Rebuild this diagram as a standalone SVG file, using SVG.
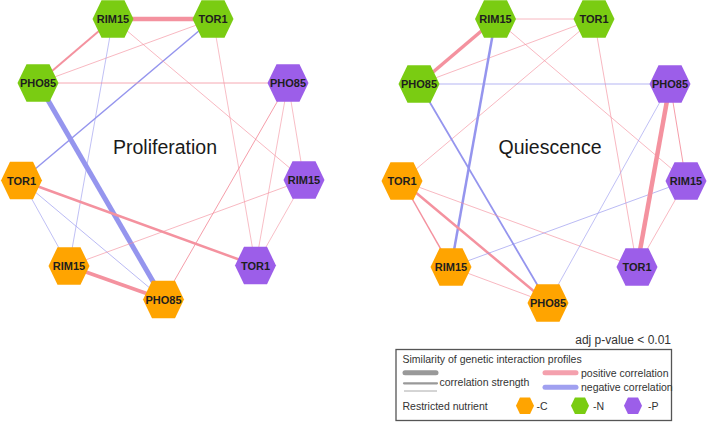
<svg xmlns="http://www.w3.org/2000/svg" xmlns:xlink="http://www.w3.org/1999/xlink" width="709" height="422" viewBox="0 0 709 422">
<style>
.pos{stroke:#f4929f;fill:none}
.neg{stroke:#9595ee;fill:none}
.C{fill:#ffa400}
.N{fill:#7acc12}
.P{fill:#9c5ee9}
.lbl{font-family:"Liberation Sans",Arial,sans-serif;font-weight:bold;font-size:11px;fill:#1e1e1e;text-anchor:middle}
.title{font-family:"Liberation Sans",Arial,sans-serif;font-size:19.5px;fill:#1a1a1a;text-anchor:middle}
.leg{font-family:"Liberation Sans",Arial,sans-serif;font-size:10.5px;fill:#333}
</style>
<defs>
<polygon id="hex" points="-20.5,0 -11.5,-18.8 11.5,-18.8 20.5,0 11.5,18.8 -11.5,18.8"/>
</defs>
<rect width="709" height="422" fill="#fff"/>

<g id="connectors">
<g id="prolif-edges">
<line class="pos" x1="113" y1="19" x2="213" y2="19" stroke-width="4.5"/>
<line class="pos" x1="113" y1="19" x2="38" y2="83" stroke-width="2"/>
<line class="pos" x1="213" y1="19" x2="38" y2="83" stroke-width="0.65"/>
<line class="neg" x1="213" y1="19" x2="21.5" y2="180.5" stroke-width="1.5"/>
<line class="neg" x1="113" y1="19" x2="69" y2="266" stroke-width="0.6"/>
<line class="pos" x1="113" y1="19" x2="304" y2="180" stroke-width="0.65"/>
<line class="pos" x1="213" y1="19" x2="255.5" y2="265.5" stroke-width="0.6"/>
<line class="pos" x1="38" y1="83" x2="288" y2="83" stroke-width="0.8"/>
<line class="neg" x1="38" y1="83" x2="163.5" y2="299.5" stroke-width="5"/>
<line class="pos" x1="21.5" y1="180.5" x2="255.5" y2="265.5" stroke-width="2.5"/>
<line class="neg" x1="21.5" y1="180.5" x2="69" y2="266" stroke-width="0.6"/>
<line class="neg" x1="21.5" y1="180.5" x2="163.5" y2="299.5" stroke-width="0.65"/>
<line class="pos" x1="69" y1="266" x2="163.5" y2="299.5" stroke-width="3.5"/>
<line class="pos" x1="69" y1="266" x2="304" y2="180" stroke-width="0.65"/>
<line class="pos" x1="163.5" y1="299.5" x2="288" y2="83" stroke-width="0.9"/>
<line class="pos" x1="288" y1="83" x2="304" y2="180" stroke-width="0.6"/>
<line class="pos" x1="288" y1="83" x2="255.5" y2="265.5" stroke-width="0.6"/>
<line class="pos" x1="304" y1="180" x2="255.5" y2="265.5" stroke-width="0.6"/>
</g>
<g id="quies-edges">
<line class="pos" x1="495.5" y1="19" x2="594" y2="19" stroke-width="0.65"/>
<line class="pos" x1="495.5" y1="19" x2="419" y2="84" stroke-width="3.5"/>
<line class="pos" x1="594" y1="19" x2="419" y2="84" stroke-width="0.65"/>
<line class="pos" x1="594" y1="19" x2="402" y2="181" stroke-width="0.65"/>
<line class="neg" x1="495.5" y1="19" x2="451" y2="267" stroke-width="2.5"/>
<line class="pos" x1="495.5" y1="19" x2="686" y2="181" stroke-width="0.65"/>
<line class="pos" x1="594" y1="19" x2="637" y2="267" stroke-width="0.65"/>
<line class="neg" x1="419" y1="84" x2="670" y2="84" stroke-width="0.7"/>
<line class="neg" x1="419" y1="84" x2="548" y2="303" stroke-width="1.8"/>
<line class="pos" x1="402" y1="181" x2="637" y2="267" stroke-width="0.65"/>
<line class="pos" x1="402" y1="181" x2="451" y2="267" stroke-width="1.5"/>
<line class="pos" x1="402" y1="181" x2="548" y2="303" stroke-width="2.5"/>
<line class="pos" x1="451" y1="267" x2="548" y2="303" stroke-width="0.65"/>
<line class="neg" x1="451" y1="267" x2="686" y2="181" stroke-width="0.65"/>
<line class="neg" x1="548" y1="303" x2="670" y2="84" stroke-width="0.6"/>
<line class="pos" x1="670" y1="84" x2="686" y2="181" stroke-width="0.9"/>
<line class="pos" x1="670" y1="84" x2="637" y2="267" stroke-width="4.5"/>
<line class="pos" x1="686" y1="181" x2="637" y2="267" stroke-width="0.65"/>
</g>
</g>

<text class="title" x="165" y="154">Proliferation</text>
<text class="title" x="550" y="154">Quiescence</text>

<g id="p-RIM15-N" transform="translate(113,19)"><use xlink:href="#hex" class="N"/><text class="lbl" y="4">RIM15</text></g>
<g id="p-TOR1-N" transform="translate(213,19)"><use xlink:href="#hex" class="N"/><text class="lbl" y="4">TOR1</text></g>
<g id="p-PHO85-N" transform="translate(38,83)"><use xlink:href="#hex" class="N"/><text class="lbl" y="4">PHO85</text></g>
<g id="p-PHO85-P" transform="translate(288,83)"><use xlink:href="#hex" class="P"/><text class="lbl" y="4">PHO85</text></g>
<g id="p-TOR1-C" transform="translate(21.5,180.5)"><use xlink:href="#hex" class="C"/><text class="lbl" y="4">TOR1</text></g>
<g id="p-RIM15-P" transform="translate(304,180)"><use xlink:href="#hex" class="P"/><text class="lbl" y="4">RIM15</text></g>
<g id="p-RIM15-C" transform="translate(69,266)"><use xlink:href="#hex" class="C"/><text class="lbl" y="4">RIM15</text></g>
<g id="p-TOR1-P" transform="translate(255.5,265.5)"><use xlink:href="#hex" class="P"/><text class="lbl" y="4">TOR1</text></g>
<g id="p-PHO85-C" transform="translate(163.5,299.5)"><use xlink:href="#hex" class="C"/><text class="lbl" y="4">PHO85</text></g>

<g id="q-RIM15-N" transform="translate(495.5,19)"><use xlink:href="#hex" class="N"/><text class="lbl" y="4">RIM15</text></g>
<g id="q-TOR1-N" transform="translate(594,19)"><use xlink:href="#hex" class="N"/><text class="lbl" y="4">TOR1</text></g>
<g id="q-PHO85-N" transform="translate(419,84)"><use xlink:href="#hex" class="N"/><text class="lbl" y="4">PHO85</text></g>
<g id="q-PHO85-P" transform="translate(670,84)"><use xlink:href="#hex" class="P"/><text class="lbl" y="4">PHO85</text></g>
<g id="q-TOR1-C" transform="translate(402,181)"><use xlink:href="#hex" class="C"/><text class="lbl" y="4">TOR1</text></g>
<g id="q-RIM15-P" transform="translate(686,181)"><use xlink:href="#hex" class="P"/><text class="lbl" y="4">RIM15</text></g>
<g id="q-RIM15-C" transform="translate(451,267)"><use xlink:href="#hex" class="C"/><text class="lbl" y="4">RIM15</text></g>
<g id="q-TOR1-P" transform="translate(637,267)"><use xlink:href="#hex" class="P"/><text class="lbl" y="4">TOR1</text></g>
<g id="q-PHO85-C" transform="translate(548,303)"><use xlink:href="#hex" class="C"/><text class="lbl" y="4">PHO85</text></g>

<g id="legend">
<text class="leg" x="671" y="344" style="font-size:12px" text-anchor="end">adj p-value &lt; 0.01</text>
<rect x="396" y="349.5" width="275.5" height="71" fill="#fff" stroke="#555" stroke-width="1.3"/>
<text class="leg" x="402.5" y="363">Similarity of genetic interaction profiles</text>
<line x1="405" y1="372.7" x2="436" y2="372.7" stroke="#999" stroke-width="5" stroke-linecap="round"/>
<line x1="404" y1="383.3" x2="437" y2="383.3" stroke="#999" stroke-width="2.2" stroke-linecap="round"/>
<line x1="404" y1="391" x2="437" y2="391" stroke="#aaa" stroke-width="1"/>
<text class="leg" x="439.5" y="385.5">correlation strength</text>
<line x1="545" y1="372.7" x2="576" y2="372.7" stroke="#f4a0ad" stroke-width="5" stroke-linecap="round"/>
<text class="leg" x="581" y="376.5">positive correlation</text>
<line x1="545" y1="387.3" x2="576" y2="387.3" stroke="#a0a0f0" stroke-width="5" stroke-linecap="round"/>
<text class="leg" x="581" y="391">negative correlation</text>
<text class="leg" x="402.5" y="409.5">Restricted nutrient</text>
<use xlink:href="#hex" class="C" transform="translate(525,405.7) scale(0.44)"/>
<text class="leg" x="536.5" y="409.5">-C</text>
<use xlink:href="#hex" class="N" transform="translate(580,405.7) scale(0.44)"/>
<text class="leg" x="593" y="409.5">-N</text>
<use xlink:href="#hex" class="P" transform="translate(633,405.7) scale(0.44)"/>
<text class="leg" x="648" y="409.5">-P</text>
</g>
</svg>
